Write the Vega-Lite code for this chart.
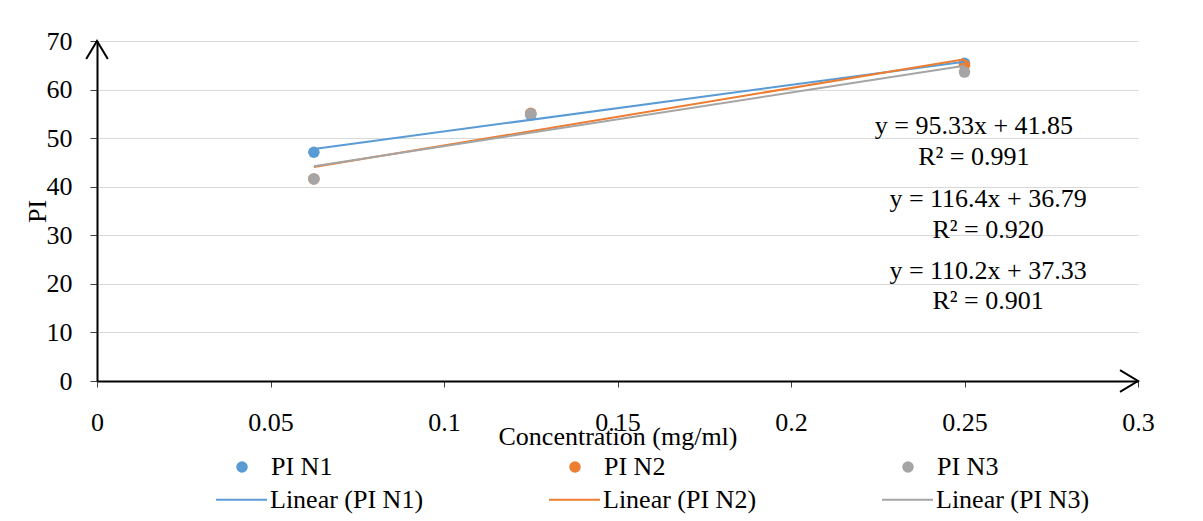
{
  "$schema": "https://vega.github.io/schema/vega-lite/v6.json",
  "width": 1041,
  "height": 340,
  "autosize": "none",
  "padding": {"left": 97, "top": 41, "right": 65, "bottom": 140},
  "background": "white",
  "config": {
    "font": "Liberation Serif",
    "view": {"stroke": null},
    "axis": {"labelFont": "Liberation Serif", "titleFont": "Liberation Serif"},
    "legend": {"labelFont": "Liberation Serif", "titleFont": "Liberation Serif"},
    "text": {"font": "Liberation Serif"}
  },
  "datasets": {
    "points": [
      {"series": "PI N1", "trend": "Linear (PI N1)", "x": 0.0625, "y": 47.1},
      {"series": "PI N1", "trend": "Linear (PI N1)", "x": 0.125, "y": 54.8},
      {"series": "PI N1", "trend": "Linear (PI N1)", "x": 0.25, "y": 65.4},
      {"series": "PI N2", "trend": "Linear (PI N2)", "x": 0.0625, "y": 41.6},
      {"series": "PI N2", "trend": "Linear (PI N2)", "x": 0.125, "y": 55.1},
      {"series": "PI N2", "trend": "Linear (PI N2)", "x": 0.25, "y": 65.0},
      {"series": "PI N3", "trend": "Linear (PI N3)", "x": 0.0625, "y": 41.6},
      {"series": "PI N3", "trend": "Linear (PI N3)", "x": 0.125, "y": 55.0},
      {"series": "PI N3", "trend": "Linear (PI N3)", "x": 0.25, "y": 63.6}
    ],
    "labels": [
      {"label": "y = 95.33x + 41.85", "x": 0.2527, "y": 52.6},
      {"label": "R² = 0.991", "x": 0.2527, "y": 46.1},
      {"label": "y = 116.4x + 36.79", "x": 0.2568, "y": 37.4},
      {"label": "R² = 0.920", "x": 0.2568, "y": 31.1},
      {"label": "y = 110.2x + 37.33", "x": 0.2568, "y": 22.7},
      {"label": "R² = 0.901", "x": 0.2568, "y": 16.4}
    ]
  },
  "layer": [
    {
      "data": {"name": "points"},
      "mark": {"type": "point", "filled": true, "size": 133, "opacity": 1, "shape": "circle"},
      "encoding": {
        "x": {
          "field": "x", "type": "quantitative",
          "scale": {"domain": [0, 0.3], "nice": false, "zero": false},
          "axis": {
            "title": "Concentration (mg/ml)",
            "values": [0, 0.05, 0.1, 0.15, 0.2, 0.25, 0.3],
            "format": "~g",
            "grid": false,
            "domainColor": "black", "domainWidth": 2,
            "tickColor": "#404040", "tickSize": 6,
            "labelFont": "Liberation Serif", "labelFontSize": 26, "labelColor": "black", "labelPadding": 22,
            "labelFlush": false, "labelOverlap": false,
            "titleFont": "Liberation Serif", "titleFontSize": 26, "titleFontWeight": "normal", "titleColor": "black",
            "titlePadding": -12
          }
        },
        "y": {
          "field": "y", "type": "quantitative",
          "scale": {"domain": [0, 70], "nice": false, "zero": true},
          "axis": {
            "title": "PI",
            "values": [0, 10, 20, 30, 40, 50, 60, 70],
            "grid": true, "gridColor": "#d9d9d9", "gridWidth": 1,
            "domainColor": "black", "domainWidth": 2,
            "tickColor": "#404040", "tickSize": 7,
            "labelFont": "Liberation Serif", "labelFontSize": 26, "labelColor": "black", "labelPadding": 18,
            "labelFlush": false, "labelOverlap": false,
            "titleFont": "Liberation Serif", "titleFontSize": 26, "titleFontWeight": "normal", "titleColor": "black",
            "titlePadding": -4
          }
        },
        "color": {
          "field": "series", "type": "nominal",
          "scale": {"domain": ["PI N1", "PI N2", "PI N3"], "range": ["#5B9BD5", "#ED7D31", "#A5A5A5"]},
          "legend": {
            "orient": "none", "legendX": 132, "legendY": 413,
            "columns": 3, "columnPadding": 229, "gridAlign": "all",
            "title": null, "padding": 0,
            "symbolType": "circle", "symbolSize": 133, "symbolStrokeWidth": 0, "symbolOpacity": 1,
            "labelOffset": 16, "labelFontSize": 26, "labelColor": "black", "labelLimit": 400,
            "labelFont": "Liberation Serif"
          }
        }
      }
    },
    {
      "data": {"name": "points"},
      "transform": [
        {"regression": "y", "on": "x", "groupby": ["series", "trend"]}
      ],
      "mark": {"type": "line", "strokeWidth": 2},
      "encoding": {
        "x": {"field": "x", "type": "quantitative"},
        "y": {"field": "y", "type": "quantitative"},
        "detail": {"field": "series"},
        "stroke": {
          "field": "trend", "type": "nominal",
          "scale": {"domain": ["Linear (PI N1)", "Linear (PI N2)", "Linear (PI N3)"], "range": ["#5B9BD5", "#ED7D31", "#A5A5A5"]},
          "legend": {
            "orient": "none", "legendX": 118, "legendY": 432,
            "columns": 3, "columnPadding": 121, "gridAlign": "all",
            "title": null, "padding": 0,
            "symbolType": "stroke", "symbolSize": 2600, "symbolStrokeWidth": 2,
            "labelOffset": 2, "labelFontSize": 26, "labelColor": "black", "labelLimit": 400,
            "labelFont": "Liberation Serif"
          }
        }
      }
    },
    {
      "data": {"name": "labels"},
      "mark": {"type": "text", "fontSize": 26, "font": "Liberation Serif", "align": "center", "baseline": "middle", "color": "black"},
      "encoding": {
        "x": {"field": "x", "type": "quantitative"},
        "y": {"field": "y", "type": "quantitative"},
        "text": {"field": "label", "type": "nominal"}
      }
    },
    {
      "data": {"values": [{"x": 0, "y": 70}]},
      "mark": {"type": "point", "shape": "M-0.6,1L0,0L0.6,1", "size": 1296, "filled": false, "stroke": "black", "strokeWidth": 2, "opacity": 1},
      "encoding": {
        "x": {"field": "x", "type": "quantitative"},
        "y": {"field": "y", "type": "quantitative"}
      }
    },
    {
      "data": {"values": [{"x": 0.3, "y": 0}]},
      "mark": {"type": "point", "shape": "M-1,-0.6L0,0L-1,0.6", "size": 1296, "filled": false, "stroke": "black", "strokeWidth": 2, "opacity": 1},
      "encoding": {
        "x": {"field": "x", "type": "quantitative"},
        "y": {"field": "y", "type": "quantitative"}
      }
    }
  ]
}
